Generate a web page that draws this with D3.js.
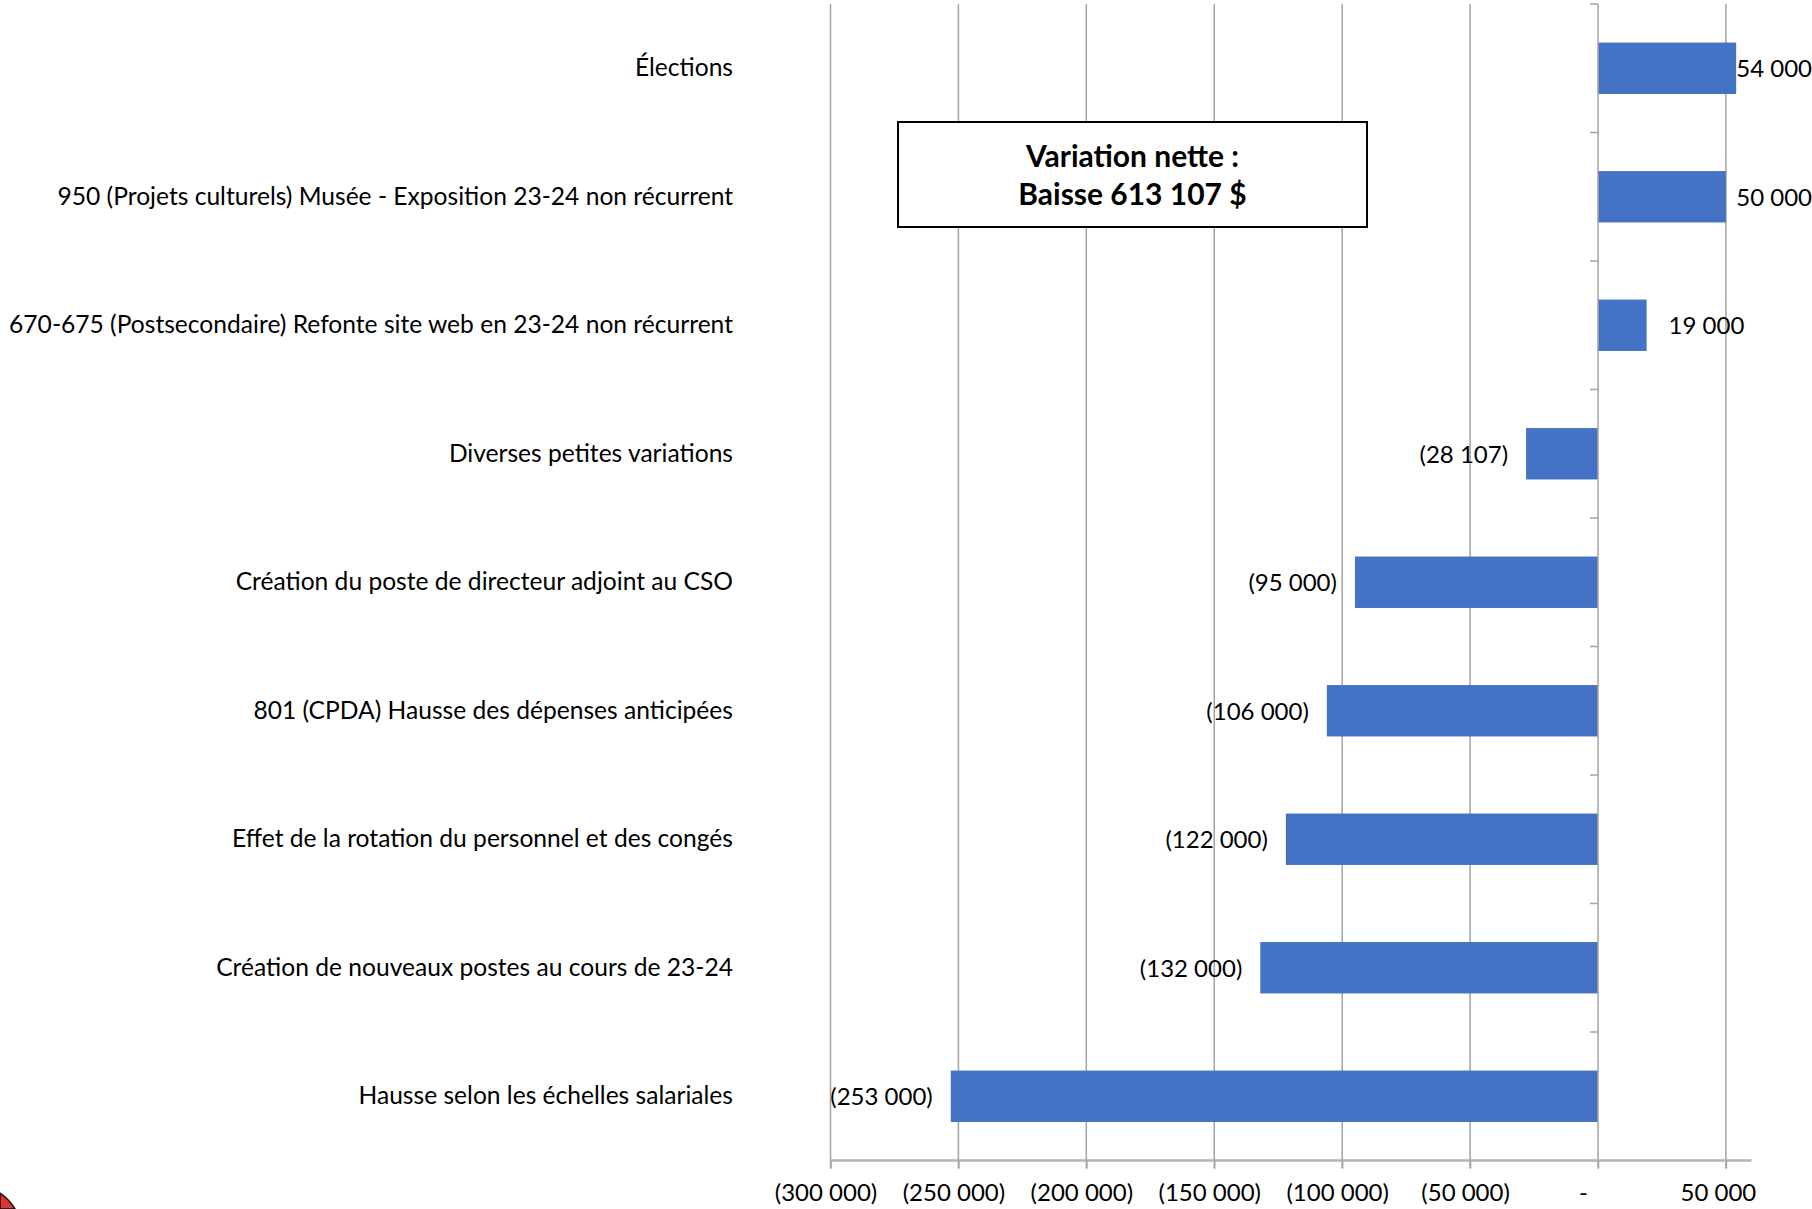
<!DOCTYPE html>
<html lang="fr">
<head>
    <meta charset="UTF-8">
    <script src="https://d3js.org/d3.v7.min.js"></script>
    <style>
        body { margin: 0; background: #fff; font-family: Lato, "Open Sans", sans-serif; }
        svg { display: block; }
    </style>
</head>
<body>
    <svg id="chart" width="1812" height="1209"></svg>
    <script>
        // catégories, du haut vers le bas
        const categories = [
            "Élections",
            "950 (Projets culturels) Musée - Exposition 23-24 non récurrent",
            "670-675 (Postsecondaire) Refonte site web en 23-24 non récurrent",
            "Diverses petites variations",
            "Création du poste de directeur adjoint au CSO",
            "801 (CPDA) Hausse des dépenses anticipées",
            "Effet de la rotation du personnel et des congés",
            "Création de nouveaux postes au cours de 23-24",
            "Hausse selon les échelles salariales"
        ];
        const values = [54000, 50000, 19000, -28107, -95000, -106000, -122000, -132000, -253000];
        const xTicks = [-300000, -250000, -200000, -150000, -100000, -50000, 0, 50000];
        const noteLines = ["Variation nette :", "Baisse 613 107 $"];

        const width = 1812, height = 1209;
        const svg = d3.select("#chart");

        const x = d3.scaleLinear()
            .domain([-300000, 60000])
            .range([830.5, 1751.5]);

        const y = d3.scaleBand()
            .domain(categories)
            .range([4, 1160.5])
            .paddingInner(0.6)
            .paddingOuter(0.3);

        const axisY = y.range()[1];
        const grey = "#a3a3a3";

        // format comptable : 12 345 / (12 345) / -
        const fmt = v => {
            if (v === 0) return "-";
            const s = d3.format(",")(Math.abs(v)).replace(/,/g, " ");
            return v < 0 ? `(${s})` : s;
        };

        // quadrillage vertical
        svg.append("g")
            .selectAll("line")
            .data(xTicks.filter(d => d !== 0))
            .enter().append("line")
            .attr("x1", d => x(d)).attr("x2", d => x(d))
            .attr("y1", 4).attr("y2", axisY + 8)
            .attr("stroke", grey)
            .attr("stroke-width", 1.5);

        // barres
        svg.append("g")
            .selectAll("rect")
            .data(values)
            .enter().append("rect")
            .attr("x", d => x(Math.min(0, d)))
            .attr("y", (d, i) => y(categories[i]))
            .attr("width", d => Math.abs(x(d) - x(0)))
            .attr("height", y.bandwidth())
            .attr("fill", "#4472C4");

        // axe des catégories (à zéro)
        const catAxis = svg.append("g");
        catAxis.append("line")
            .attr("x1", x(0)).attr("x2", x(0))
            .attr("y1", 4).attr("y2", axisY + 8)
            .attr("stroke", grey).attr("stroke-width", 1.5);
        catAxis.selectAll("line.tick")
            .data(d3.range(categories.length + 1))
            .enter().append("line")
            .attr("class", "tick")
            .attr("x1", x(0) - 8).attr("x2", x(0))
            .attr("y1", i => y.range()[0] + i * y.step())
            .attr("y2", i => y.range()[0] + i * y.step())
            .attr("stroke", grey).attr("stroke-width", 1.5);

        // axe horizontal
        const xAxis = svg.append("g")
            .attr("transform", `translate(0,${axisY})`)
            .call(d3.axisBottom(x).tickValues(xTicks).tickSize(8).tickFormat(fmt));
        xAxis.select(".domain")
            .attr("d", `M${x(-300000)},0H${x(60000)}`)
            .attr("stroke", "#b4b4b4").attr("stroke-width", 2.5);
        xAxis.selectAll(".tick line").attr("stroke", grey).attr("stroke-width", 1.5);
        xAxis.selectAll(".tick text")
            .attr("y", 40)
            .attr("dy", 0)
            .attr("dx", d => d === 0 ? -15 : (d > 0 ? -8 : -5))
            .attr("fill", "#000")
            .style("font-family", "Lato, sans-serif")
            .style("font-size", "24px");

        // libellés des catégories
        svg.append("g")
            .selectAll("text")
            .data(categories)
            .enter().append("text")
            .attr("x", 733)
            .attr("y", d => y(d) + y.bandwidth() / 2 + 8)
            .attr("text-anchor", "end")
            .style("font-size", "24.6px")
            .attr("fill", "#000")
            .text(d => d);

        // étiquettes de données
        svg.append("g")
            .selectAll("text")
            .data(values)
            .enter().append("text")
            .attr("y", (d, i) => y(categories[i]) + y.bandwidth() / 2 + 9)
            .style("font-size", "24px")
            .attr("fill", "#000")
            .text(d => fmt(d))
            .each(function (d) {
                const w = this.getComputedTextLength();
                if (d < 0) {
                    d3.select(this).attr("x", x(d) - 18).attr("text-anchor", "end");
                } else {
                    d3.select(this).attr("x", Math.min(x(d) + 22, width - w));
                }
            });

        // encadré
        const box = svg.append("g");
        box.append("rect")
            .attr("x", 898).attr("y", 122)
            .attr("width", 469).attr("height", 105)
            .attr("fill", "#fff")
            .attr("stroke", "#000")
            .attr("stroke-width", 2);
        box.selectAll("text")
            .data(noteLines)
            .enter().append("text")
            .attr("x", 898 + 469 / 2)
            .attr("y", (d, i) => 167 + i * 38)
            .attr("text-anchor", "middle")
            .style("font-size", "30px")
            .style("font-weight", "bold")
            .attr("fill", "#000")
            .text(d => d);

        // petit fragment d'image dans le coin
        svg.append("path")
            .attr("d", "M0,1193 Q9,1199 15,1209 L0,1209 Z")
            .attr("fill", "#d33")
            .attr("stroke", "#111")
            .attr("stroke-width", 1.5);
    </script>
</body>
</html>
